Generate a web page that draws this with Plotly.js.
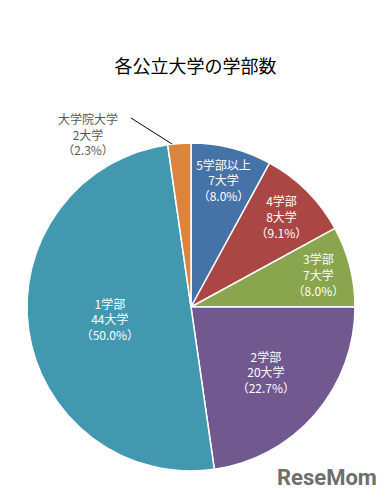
<!DOCTYPE html>
<html>
<head>
<meta charset="utf-8">
<script src="https://cdn.plot.ly/plotly-3.0.1.min.js"></script>
<style>html,body{margin:0;padding:0;background:#fff;}#chart{width:391px;height:500px;}</style>
</head>
<body>
<div id="chart"></div>
<script>
const categories = ['5学部以上', '4学部', '3学部', '2学部', '1学部', '大学院大学'];
const universities = [7, 8, 7, 20, 44, 2];
const colors = ['#4572A7', '#AA4643', '#89A54E', '#71588F', '#4198AF', '#DB843D'];
const titleText = '各公立大学の学部数';

const font = '"Noto Sans CJK JP", "Noto Sans", sans-serif';

const trace = {
  type: 'pie',
  labels: categories,
  values: universities,
  sort: false,
  direction: 'clockwise',
  rotation: 0,
  marker: {colors: colors, line: {color: '#ffffff', width: 1.5}},
  texttemplate: categories.map((c, i) => i === categories.length - 1 ? '' : '%{label}<br>%{value}大学<br>（%{percent:.1%}）'),
  textinfo: 'text',
  textposition: 'inside',
  insidetextorientation: 'horizontal',
  insidetextfont: {color: '#ffffff', size: 12, family: font},
  hoverinfo: 'none',
  domain: {x: [0.069, 0.908], y: [0.058, 0.714]}
};

const last = categories.length - 1;
const total = universities.reduce((a, b) => a + b, 0);
const layout = {
  width: 391, height: 500,
  margin: {l: 0, r: 0, t: 0, b: 0},
  paper_bgcolor: '#ffffff',
  showlegend: false,
  font: {family: font},
  uniformtext: {minsize: 12, mode: 'show'},
  title: {text: titleText, font: {size: 18, color: '#000000', family: font}, x: 0.5, xanchor: 'center', y: 0.866, yanchor: 'middle'},
  annotations: [
    {xref: 'paper', yref: 'paper', x: 0.225, y: 0.733, xanchor: 'center', yanchor: 'middle', align: 'center',
     text: categories[last] + '<br>' + universities[last] + '大学<br>（' + (universities[last] / total * 100).toFixed(1) + '%）',
     showarrow: false,
     font: {size: 12, color: '#595959', family: font}},
    {xref: 'paper', yref: 'paper', x: 0.97, y: 0.045, xanchor: 'right', yanchor: 'middle', showarrow: false,
     text: '<b>ReseMom</b>', font: {size: 22, color: '#6e6e6e', family: 'Roboto, "DejaVu Sans", sans-serif'}}
  ],
  shapes: [
    {type: 'line', xref: 'paper', yref: 'paper', x0: 0.335, y0: 0.764, x1: 0.44, y1: 0.712, line: {color: '#000000', width: 1}}
  ]
};

Plotly.newPlot('chart', [trace], layout, {staticPlot: true, displayModeBar: false});
</script>
</body>
</html>
